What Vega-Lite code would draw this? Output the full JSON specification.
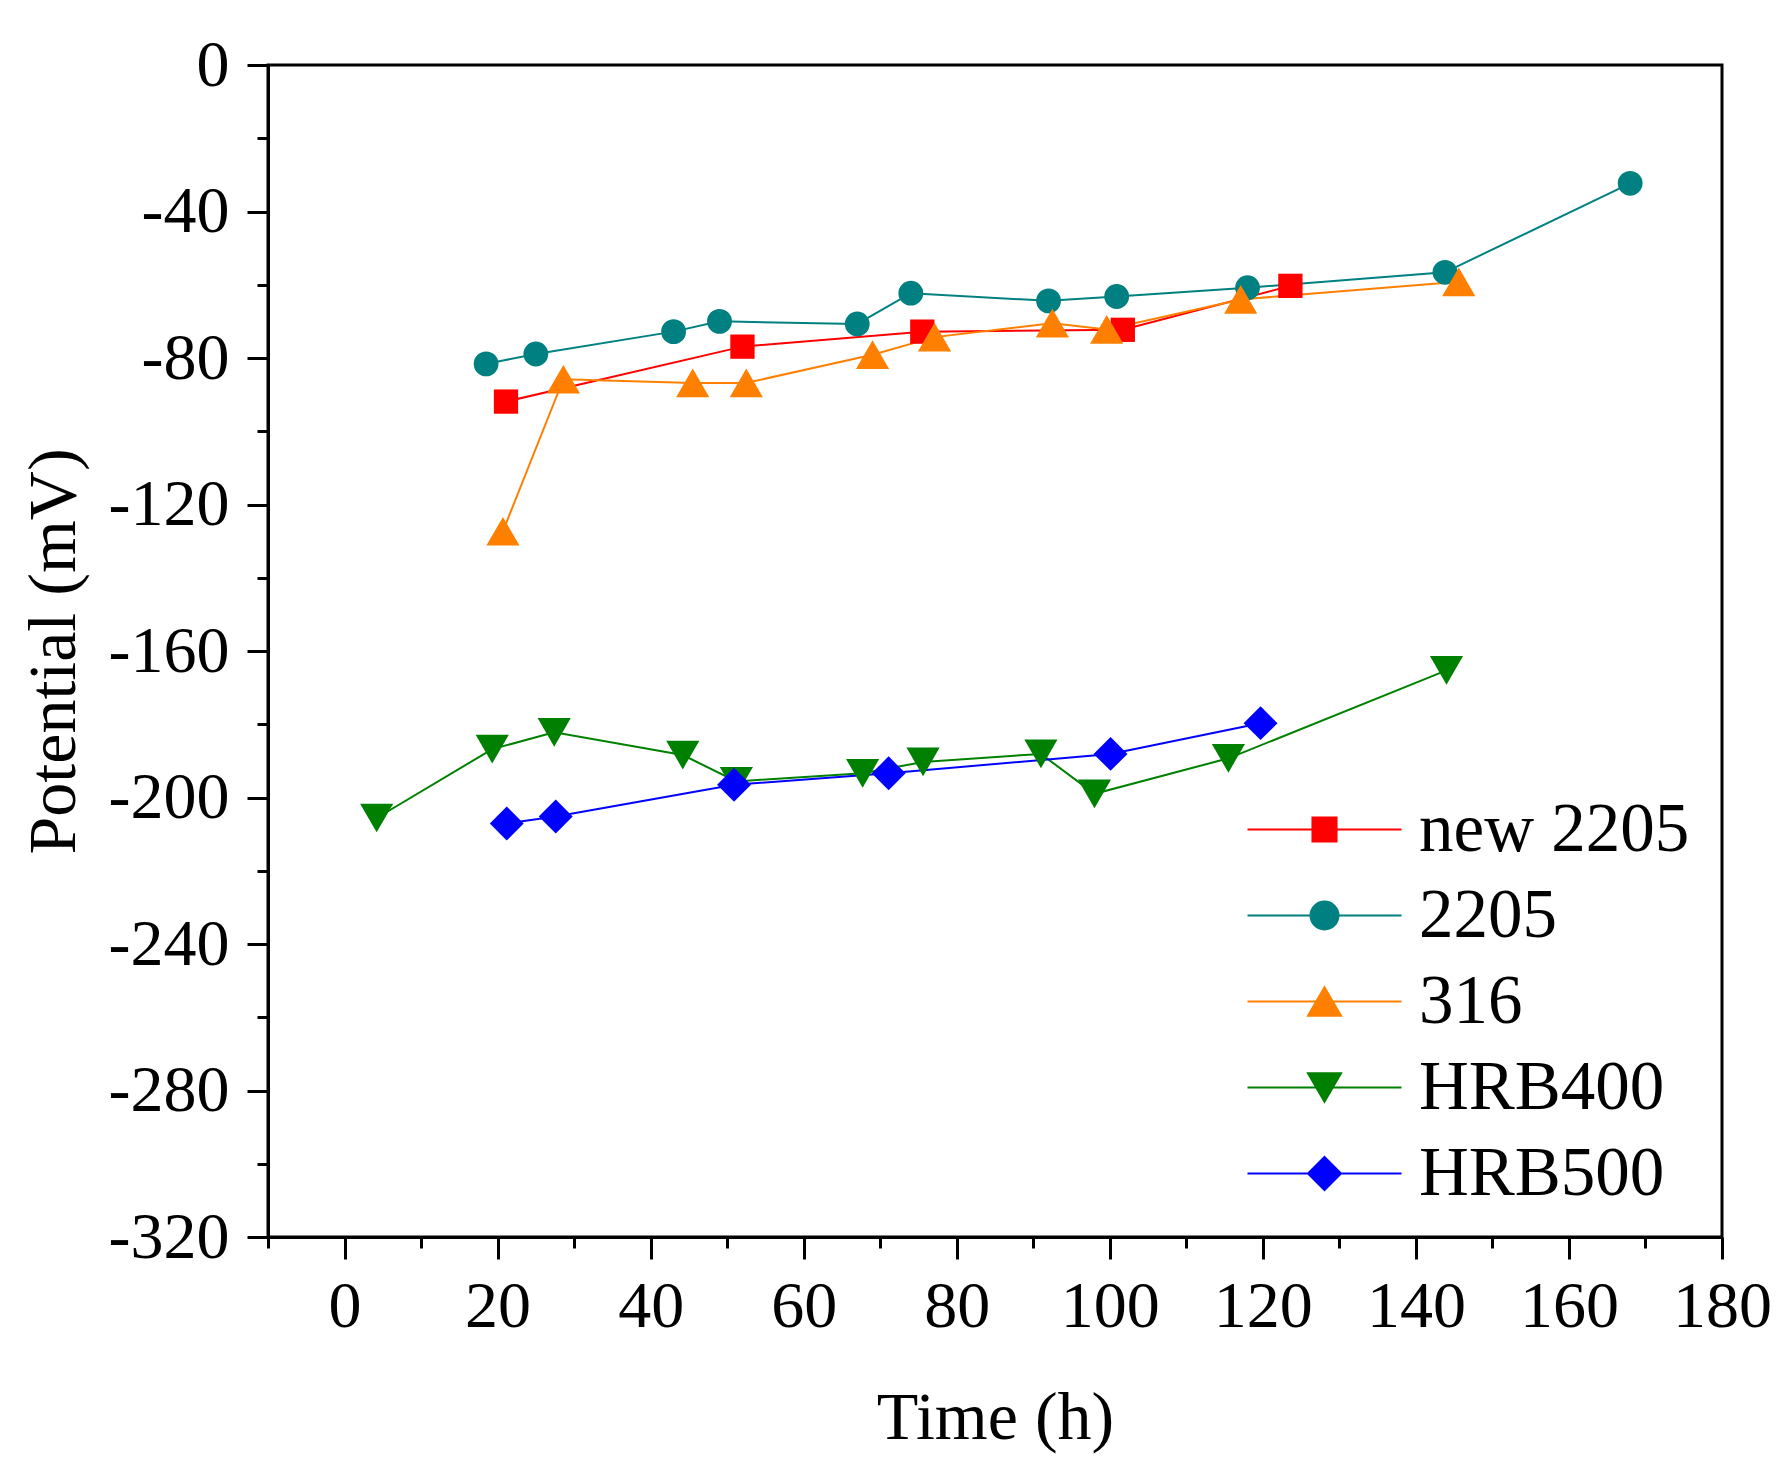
{
  "$schema": "https://vega.github.io/schema/vega-lite/v6.json",
  "width": 1454,
  "height": 1172,
  "autosize": "none",
  "padding": {"left": 268, "top": 65, "right": 70, "bottom": 239},
  "background": "white",
  "config": {
    "view": {"stroke": "black", "strokeWidth": 3},
    "axis": {
      "grid": false,
      "labelFlush": false,
      "domainColor": "black",
      "domainWidth": 3,
      "tickColor": "black",
      "tickWidth": 3,
      "labelFont": "Liberation Serif",
      "labelFontSize": 66,
      "labelColor": "black",
      "titleFont": "Liberation Serif",
      "titleFontSize": 68,
      "titleFontWeight": "normal",
      "titleColor": "black"
    }
  },
  "data": {
    "values": [
      {"series": "new 2205", "time": 21.1, "potential": -91.9},
      {"series": "new 2205", "time": 52.0, "potential": -76.9},
      {"series": "new 2205", "time": 75.5, "potential": -72.8},
      {"series": "new 2205", "time": 101.7, "potential": -72.3},
      {"series": "new 2205", "time": 123.6, "potential": -60.3},
      {"series": "2205", "time": 18.5, "potential": -81.6},
      {"series": "2205", "time": 25.0, "potential": -78.9},
      {"series": "2205", "time": 43.0, "potential": -72.8},
      {"series": "2205", "time": 49.0, "potential": -70.0},
      {"series": "2205", "time": 67.0, "potential": -70.7},
      {"series": "2205", "time": 74.0, "potential": -62.3},
      {"series": "2205", "time": 92.0, "potential": -64.4},
      {"series": "2205", "time": 100.9, "potential": -63.2},
      {"series": "2205", "time": 118.0, "potential": -60.8},
      {"series": "2205", "time": 143.8, "potential": -56.6},
      {"series": "2205", "time": 168.0, "potential": -32.3},
      {"series": "316", "time": 20.7, "potential": -127.3},
      {"series": "316", "time": 28.6, "potential": -85.8},
      {"series": "316", "time": 45.5, "potential": -86.8},
      {"series": "316", "time": 52.5, "potential": -86.8},
      {"series": "316", "time": 69.0, "potential": -79.1},
      {"series": "316", "time": 77.1, "potential": -74.3},
      {"series": "316", "time": 92.5, "potential": -70.5},
      {"series": "316", "time": 99.6, "potential": -72.2},
      {"series": "316", "time": 117.1, "potential": -64.0},
      {"series": "316", "time": 145.6, "potential": -59.2},
      {"series": "HRB400", "time": 4.2, "potential": -205.6},
      {"series": "HRB400", "time": 19.3, "potential": -186.8},
      {"series": "HRB400", "time": 27.4, "potential": -182.2},
      {"series": "HRB400", "time": 44.2, "potential": -188.4},
      {"series": "HRB400", "time": 51.2, "potential": -195.6},
      {"series": "HRB400", "time": 67.7, "potential": -193.4},
      {"series": "HRB400", "time": 75.6, "potential": -190.3},
      {"series": "HRB400", "time": 91.0, "potential": -188.1},
      {"series": "HRB400", "time": 98.0, "potential": -199.0},
      {"series": "HRB400", "time": 115.5, "potential": -189.3},
      {"series": "HRB400", "time": 144.0, "potential": -165.3},
      {"series": "HRB500", "time": 21.2, "potential": -207.1},
      {"series": "HRB500", "time": 27.6, "potential": -205.2},
      {"series": "HRB500", "time": 50.9, "potential": -196.5},
      {"series": "HRB500", "time": 71.1, "potential": -193.4},
      {"series": "HRB500", "time": 100.1, "potential": -188.1},
      {"series": "HRB500", "time": 119.7, "potential": -179.7}
    ]
  },
  "layer": [
    {
      "mark": {"type": "line", "strokeWidth": 2},
      "encoding": {
        "x": {
          "field": "time",
          "type": "quantitative",
          "scale": {"domain": [-10, 180], "nice": false, "zero": false},
          "axis": {
            "orient": "bottom",
            "values": [0, 20, 40, 60, 80, 100, 120, 140, 160, 180],
            "tickSize": 22,
            "labelPadding": 15,
            "title": "Time (h)",
            "titlePadding": 45
          }
        },
        "y": {
          "field": "potential",
          "type": "quantitative",
          "scale": {"domain": [-320, 0], "nice": false, "zero": false},
          "axis": {
            "orient": "left",
            "values": [-320, -280, -240, -200, -160, -120, -80, -40, 0],
            "tickSize": 21,
            "labelPadding": 18,
            "labelExpr": "replace(datum.label, '\u2212', '-')",
            "title": "Potential (mV)",
            "titlePadding": 20
          }
        },
        "color": {
          "field": "series",
          "type": "nominal",
          "scale": {
            "domain": ["new 2205", "2205", "316", "HRB400", "HRB500"],
            "range": ["#ff0000", "#008080", "#ff8000", "#008000", "#0000ff"]
          },
          "legend": null
        }
      }
    },
    {
      "mark": {"type": "point", "filled": true, "opacity": 1, "strokeWidth": 0},
      "encoding": {
        "x": {"field": "time", "type": "quantitative", "axis": null},
        "y": {"field": "potential", "type": "quantitative", "axis": null},
        "color": {"field": "series", "type": "nominal", "legend": null},
        "shape": {
          "field": "series",
          "type": "nominal",
          "scale": {
            "domain": ["new 2205", "2205", "316", "HRB400", "HRB500"],
            "range": ["square", "circle", "triangle-up", "triangle-down", "diamond"]
          },
          "legend": null
        },
        "size": {
          "field": "series",
          "type": "nominal",
          "scale": {
            "type": "ordinal",
            "domain": ["new 2205", "2205", "316", "HRB400", "HRB500"],
            "range": [590, 616, 1100, 1100, 1150]
          },
          "legend": null
        }
      }
    },
    {
      "mark": {"type": "point", "filled": true, "opacity": 0},
      "encoding": {
        "x": {
          "field": "time",
          "type": "quantitative",
          "axis": {
            "orient": "bottom",
            "values": [-10, 10, 30, 50, 70, 90, 110, 130, 150, 170],
            "tickSize": 11,
            "labels": false,
            "domain": false,
            "title": null
          }
        },
        "y": {
          "field": "potential",
          "type": "quantitative",
          "axis": {
            "orient": "left",
            "values": [-300, -260, -220, -180, -140, -100, -60, -20],
            "tickSize": 11,
            "labels": false,
            "domain": false,
            "title": null
          }
        },
        "fill": {
          "field": "series",
          "type": "nominal",
          "scale": {
            "domain": ["new 2205", "2205", "316", "HRB400", "HRB500"],
            "range": ["#ff0000", "#008080", "#ff8000", "#008000", "#0000ff"]
          },
          "legend": {
            "orient": "none", "legendX": 1022, "legendY": 730, "padding": 0, "title": null,
            "symbolSize": 784, "symbolStrokeWidth": 2, "symbolOpacity": 1,
            "labelFont": "Liberation Serif", "labelFontSize": 69, "labelColor": "black",
            "labelOffset": 60, "labelLimit": 0, "rowPadding": 16
          }
        },
        "stroke": {
          "field": "series",
          "type": "nominal",
          "scale": {
            "domain": ["new 2205", "2205", "316", "HRB400", "HRB500"],
            "range": ["#ff0000", "#008080", "#ff8000", "#008000", "#0000ff"]
          },
          "legend": {
            "orient": "none", "legendX": 1022, "legendY": 730, "padding": 0, "title": null,
            "symbolSize": 784, "symbolStrokeWidth": 2, "symbolOpacity": 1,
            "labelFont": "Liberation Serif", "labelFontSize": 69, "labelColor": "black",
            "labelOffset": 60, "labelLimit": 0, "rowPadding": 16
          }
        },
        "shape": {
          "field": "series",
          "type": "nominal",
          "scale": {
            "domain": ["new 2205", "2205", "316", "HRB400", "HRB500"],
            "range": [
              "M-5.5,0H5.5M-0.86,-0.86H0.86V0.86H-0.86Z",
              "M-5.5,0H5.5M1,0A1,1,0,1,1,-1,0A1,1,0,1,1,1,0Z",
              "M-5.5,0H5.5M0,-1.02L1.18,1.02H-1.18Z",
              "M-5.5,0H5.5M0,1.02L1.18,-1.02H-1.18Z",
              "M-5.5,0H5.5M0,-1.18L1.18,0L0,1.18L-1.18,0Z"
            ]
          },
          "legend": {
            "orient": "none", "legendX": 1022, "legendY": 730, "padding": 0, "title": null,
            "symbolSize": 784, "symbolStrokeWidth": 2, "symbolOpacity": 1,
            "labelFont": "Liberation Serif", "labelFontSize": 69, "labelColor": "black",
            "labelOffset": 60, "labelLimit": 0, "rowPadding": 16
          }
        }
      }
    }
  ],
  "resolve": {
    "scale": {"shape": "independent", "fill": "independent", "stroke": "independent"},
    "axis": {"x": "independent", "y": "independent"}
  }
}
